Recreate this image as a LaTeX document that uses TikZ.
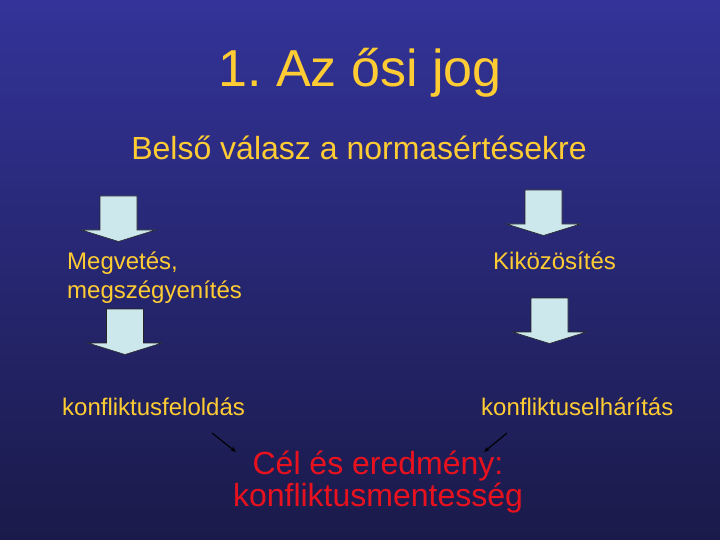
\documentclass[tikz,border=0pt]{standalone}
\usepackage{fontspec}
\setmainfont{Liberation Sans}
\frenchspacing
\usetikzlibrary{arrows.meta}
\definecolor{bgtop}{RGB}{51,51,153}
\definecolor{bgbot}{RGB}{26,26,74}
\definecolor{gold}{RGB}{255,204,51}
\definecolor{goalred}{RGB}{232,18,30}
\definecolor{arrowfill}{RGB}{204,232,236}
\tikzset{
  label text/.style={inner sep=0pt, text=gold, font=\fontsize{24}{29}\selectfont},
  blockarrow/.pic={
    \draw[fill=arrowfill, draw=black!85, line width=0.6pt, line join=miter]
      (-18.5,0) -- (18.5,0) -- (18.5,34) -- (37,34) -- (0,45.5)
      -- (-37,34) -- (-18.5,34) -- cycle;
  },
  pointer/.style={-{Stealth[length=6pt,width=4.5pt]}, line width=1.1pt, black},
}
\begin{document}
\begin{tikzpicture}[x=1pt, y=-1pt]
  \shade[top color=bgtop, bottom color=bgbot] (0,0) rectangle (720,540);
  \useasboundingbox (0,0) rectangle (720,540);

  \node[inner sep=0pt, anchor=base, text=gold, font=\fontsize{52}{60}\selectfont]
    (title) at (360,87) {1. Az ősi jog};
  \node[inner sep=0pt, anchor=base, text=gold, font=\fontsize{32}{38}\selectfont]
    (sub) at (359,160) {Belső válasz a normasértésekre};

  \pic at (118.5,196) {blockarrow};
  \pic at (125,309) {blockarrow};
  \pic at (543.5,190) {blockarrow};
  \pic at (549.5,298) {blockarrow};

  \node[label text, anchor=base west, align=left] (megv) at (67,298)
    {Megvetés,\\megszégyenítés};
  \node[label text, anchor=base west] (kikoz) at (493,269) {Kiközösítés};
  \node[label text, anchor=base west] (feloldas) at (62,415) {konfliktusfeloldás};
  \node[label text, anchor=base west] (elharitas) at (481,415) {konfliktuselhárítás};

  \node[inner sep=0pt, anchor=base, align=center, text=goalred,
        font=\fontsize{32}{32}\selectfont] (cel) at (378,506)
    {Cél és eredmény:\\konfliktusmentesség};

  \coordinate (lstart) at (212,433);
  \coordinate (lend) at (236,452);
  \coordinate (rstart) at (507,433);
  \coordinate (rend) at (484,452);
  \draw[pointer] (lstart) -- (lend);
  \draw[pointer] (rstart) -- (rend);
\end{tikzpicture}
\end{document}
